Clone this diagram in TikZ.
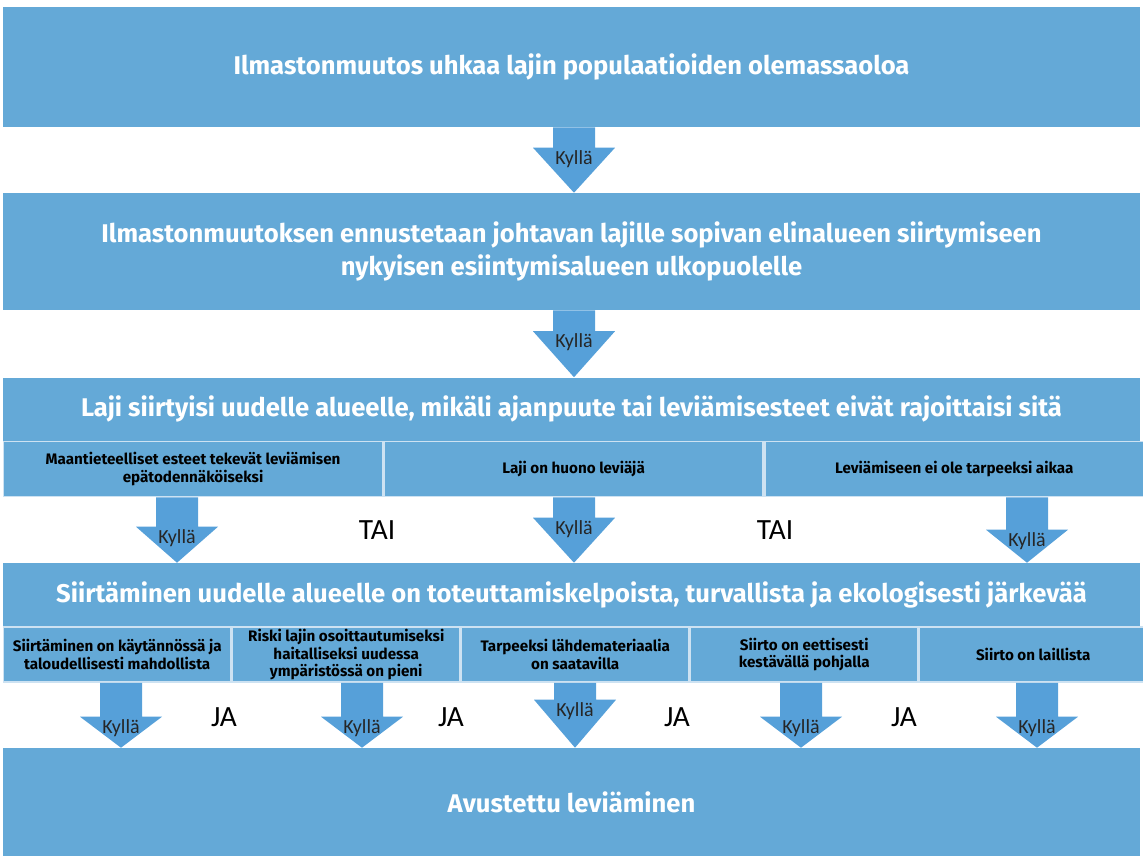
\documentclass[tikz,border=0pt]{standalone}
\usepackage{fontspec}
\setmainfont{Fira Sans}
\newfontfamily\labelfont{Carlito}
\usetikzlibrary{positioning,calc}
\definecolor{boxblue}{RGB}{100,169,215}
\definecolor{arrowblue}{RGB}{86,160,217}
\definecolor{edgeblue}{RGB}{205,226,242}

% block arrow with a Kyllä label: x, from node, to node, head length, name
\newcommand{\kylla}[5]{%
  \coordinate (#5) at (#1,0);
  \fill[arrowblue] ($(#5 |- #2.south)+(-21,0)$) -- ($(#5 |- #2.south)+(21,0)$)
    -- ($(#5 |- #3.north)+(21,-#4)$) -- ($(#5 |- #3.north)+(41,-#4)$)
    -- (#5 |- #3.north) -- ($(#5 |- #3.north)+(-41,-#4)$)
    -- ($(#5 |- #3.north)+(-21,-#4)$) -- cycle;
  \node[yes] (#5-l) at ($(#5 |- #3.north)+(0,-#4+11)$) {Kyllä};
}

\begin{document}
\begin{tikzpicture}[x=0.75pt,y=-0.75pt,
        mainbox/.style={fill=boxblue, text=white, inner sep=0pt, align=center,
          minimum width=852.75pt, font=\bfseries\fontsize{19.2}{24.5}\selectfont},
        subbox/.style={fill=boxblue, draw=edgeblue, line width=1.2pt, inner sep=0pt,
          align=center, minimum height=41.25pt, font=\bfseries\fontsize{11.4}{13.3}\selectfont},
        yes/.style={inner sep=0pt, text=black!85, font=\labelfont\fontsize{15}{15}\selectfont},
        conj/.style={inner sep=0pt, font=\labelfont\fontsize{22}{22}\selectfont}]
  \useasboundingbox (0,0) rectangle (1143,856);

  \node[mainbox, minimum height=90pt] (threat) at (571.5,67)
    {Ilmastonmuutos uhkaa lajin populaatioiden olemassaoloa};
  \node[mainbox, minimum height=87.75pt] (shift) at (571.5,251.5)
    {Ilmastonmuutoksen ennustetaan johtavan lajille sopivan elinalueen siirtymiseen\\
     nykyisen esiintymisalueen ulkopuolelle};
  \node[mainbox, minimum height=47.25pt] (move) at (571.5,409)
    {Laji siirtyisi uudelle alueelle, mikäli ajanpuute tai leviämisesteet eivät rajoittaisi sitä};

  % reasons
  \node[subbox, minimum width=284.25pt, anchor=north west] (geo) at (move.south west)
    {Maantieteelliset esteet tekevät leviämisen\\ epätodennäköiseksi};
  \node[subbox, minimum width=284.25pt, right=0pt of geo] (poor) {Laji on huono leviäjä};
  \node[subbox, minimum width=284.25pt, right=0pt of poor] (time)
    {Leviämiseen ei ole tarpeeksi aikaa};

  \node[mainbox, minimum height=47.25pt] (feasible) at (571.5,594.5)
    {Siirtäminen uudelle alueelle on toteuttamiskelpoista, turvallista ja ekologisesti järkevää};

  % conditions
  \node[subbox, minimum width=170.55pt, anchor=north west] (cost) at (feasible.south west)
    {Siirtäminen on käytännössä ja\\ taloudellisesti mahdollista};
  \node[subbox, minimum width=170.55pt, right=0pt of cost] (risk)
    {Riski lajin osoittautumiseksi\\ haitalliseksi uudessa\\ ympäristössä on pieni};
  \node[subbox, minimum width=170.55pt, right=0pt of risk] (source)
    {Tarpeeksi lähdemateriaalia\\ on saatavilla};
  \node[subbox, minimum width=170.55pt, right=0pt of source] (ethic)
    {Siirto on eettisesti\\ kestävällä pohjalla};
  \node[subbox, minimum width=170.55pt, right=0pt of ethic] (legal)
    {Siirto on laillista};

  \node[mainbox, minimum height=81pt] (assist) at (571.5,802) {Avustettu leviäminen};

  % arrows
  \kylla{574}{threat}{shift}{45}{a1}
  \kylla{574}{shift}{move}{46}{a2}
  \kylla{177}{geo}{feasible}{36}{a3}
  \kylla{574}{poor}{feasible}{45}{a4}
  \kylla{1027}{time}{feasible}{33}{a5}
  \kylla{121}{cost}{assist}{31}{a6}
  \kylla{362}{risk}{assist}{31}{a7}
  \kylla{575}{source}{assist}{48}{a8}
  \kylla{801}{ethic}{assist}{31}{a9}
  \kylla{1037}{legal}{assist}{31}{a10}

  \node[conj] (tai1) at (377,530) {TAI};
  \node[conj] (tai2) at (775,530) {TAI};
  \node[conj] (ja1) at (224,717) {JA};
  \node[conj] (ja2) at (451,717) {JA};
  \node[conj] (ja3) at (677,717) {JA};
  \node[conj] (ja4) at (904,717) {JA};
\end{tikzpicture}
\end{document}
